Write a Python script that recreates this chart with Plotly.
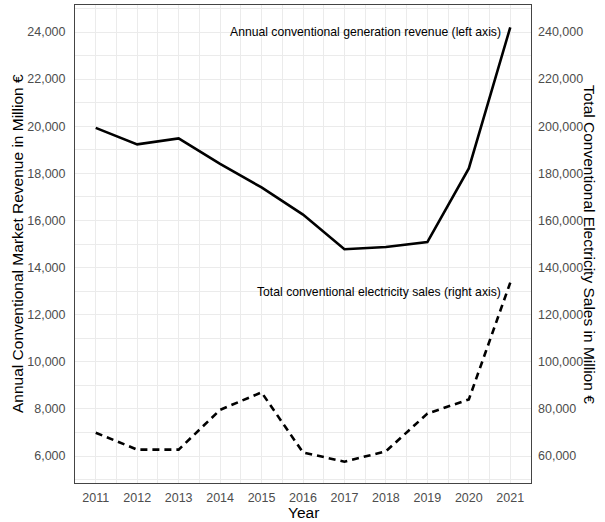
import plotly.graph_objects as go

years = [2011, 2012, 2013, 2014, 2015, 2016, 2017, 2018, 2019, 2020, 2021]
revenue = [19930, 19230, 19480, 18400, 17400, 16250, 14780, 14870, 15080, 18210, 24200]
sales = [69900, 62700, 62700, 79600, 87000, 61500, 57600, 62000, 78000, 84000, 133600]

left_ticks = [6000, 8000, 10000, 12000, 14000, 16000, 18000, 20000, 22000, 24000]
right_ticks = [60000, 80000, 100000, 120000, 140000, 160000, 180000, 200000, 220000, 240000]

font_family = "Liberation Sans, Arial, sans-serif"
grid = "#ebebeb"
tickfont = dict(size=12.5, color="#4d4d4d")

fig = go.Figure()
fig.add_trace(go.Scatter(x=years, y=revenue, mode="lines",
                         line=dict(color="black", width=2.6), yaxis="y",
                         showlegend=False))
fig.add_trace(go.Scatter(x=years, y=sales, mode="lines",
                         line=dict(color="black", width=2.6, dash="7px,5px"), yaxis="y2",
                         showlegend=False))

fig.update_layout(
    width=605, height=522,
    margin=dict(l=75, r=74, t=5, b=39),
    plot_bgcolor="white", paper_bgcolor="white",
    font=dict(family=font_family, color="black"),
    xaxis=dict(
        range=[2010.5, 2021.5], tickmode="array", tickvals=years,
        ticktext=[str(y) for y in years],
        showgrid=True, gridcolor=grid, gridwidth=1.2,
        minor=dict(showgrid=True, dtick=0.5, gridcolor=grid, gridwidth=0.8),
        showline=True, linecolor="#444", linewidth=1, mirror=True,
        ticks="", tickfont=tickfont, ticklabelstandoff=3,
        automargin=False, zeroline=False,
    ),
    yaxis=dict(
        range=[4854, 25146], tickmode="array", tickvals=left_ticks,
        ticktext=[f"{v:,}" for v in left_ticks],
        showgrid=True, gridcolor=grid, gridwidth=1.2,
        minor=dict(showgrid=True, tickmode="array",
                   tickvals=[5000, 7000, 9000, 11000, 13000, 15000, 17000, 19000, 21000, 23000, 25000],
                   gridcolor=grid, gridwidth=0.8),
        showline=True, linecolor="#444", linewidth=1, mirror=True,
        ticks="", tickfont=tickfont, ticklabelstandoff=6,
        automargin=False, zeroline=False,
    ),
    yaxis2=dict(
        range=[48540, 251460], overlaying="y", side="right",
        tickmode="array", tickvals=right_ticks,
        ticktext=[f"{v:,}" for v in right_ticks],
        showgrid=False, ticks="", tickfont=tickfont, ticklabelstandoff=6,
        automargin=False, zeroline=False, showline=False,
    ),
    annotations=[
        dict(x=2020.83, y=24000, xref="x", yref="y", xanchor="right", yanchor="middle",
             text="Annual conventional generation revenue (left axis)", showarrow=False,
             font=dict(size=12.2, color="black")),
        dict(x=2020.83, y=129800, xref="x", yref="y2", xanchor="right", yanchor="middle",
             text="Total conventional electricity sales (right axis)", showarrow=False,
             font=dict(size=12.2, color="black")),
        dict(x=0, y=0.5, xref="paper", yref="paper", xanchor="center", yanchor="middle",
             xshift=-58, textangle=-90, showarrow=False,
             text="Annual Conventional Market Revenue in Million €",
             font=dict(size=15.5, color="black")),
        dict(x=1, y=0.5, xref="paper", yref="paper", xanchor="center", yanchor="middle",
             xshift=59, textangle=90, showarrow=False,
             text="Total Conventional Electricity Sales in Million €",
             font=dict(size=15.5, color="black")),
        dict(x=0.5, y=0, xref="paper", yref="paper", xanchor="center", yanchor="middle",
             yshift=-29, showarrow=False, text="Year",
             font=dict(size=15.5, color="black")),
    ],
)

fig.write_html("out.html", config={"displayModeBar": False},
               post_script="document.body.style.margin='0';")
